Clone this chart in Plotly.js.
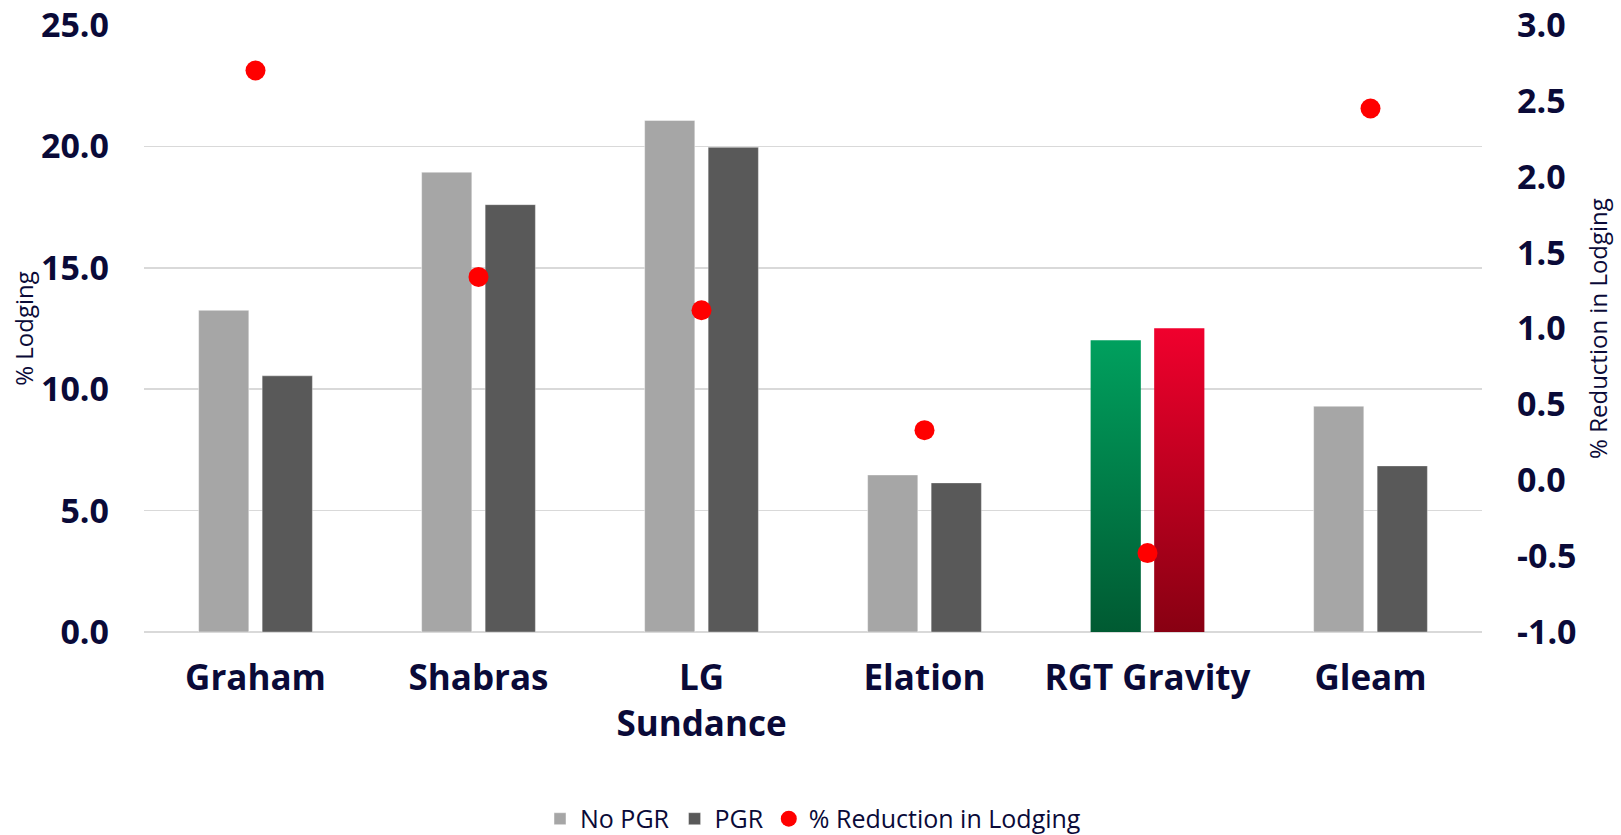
<!DOCTYPE html>
<html>
<head>
<meta charset="utf-8">
<script src="https://cdn.plot.ly/plotly-3.0.1.min.js"></script>
<style>
html,body{margin:0;padding:0;background:#fff;}
#chart{width:1621px;height:835px;}
</style>
</head>
<body>
<div id="chart"></div>
<script>
const categories = ['Graham', 'Shabras', 'LG<br>Sundance', 'Elation', 'RGT Gravity', 'Gleam'];
const noPgr = [13.25, 18.94, 21.07, 6.47, 12.02, 9.3];
const pgr = [10.55, 17.6, 19.96, 6.14, 12.51, 6.84];
const reduction = [2.70, 1.34, 1.12, 0.33, -0.48, 2.45];
const leftTicks = [0, 5, 10, 15, 20, 25];
const rightTicks = [-1, -0.5, 0, 0.5, 1, 1.5, 2, 2.5, 3];

const navy = '#0a0a38';
const noPgrColors = categories.map((c, i) => i === 4 ? '#008a50' : '#a6a6a6');
const pgrColors = categories.map((c, i) => i === 4 ? '#c80020' : '#595959');

const traces = [
  {
    type: 'bar', name: 'No PGR', x: categories, y: noPgr,
    marker: {color: noPgrColors, line: {color: 'rgba(255,255,255,0.45)', width: 1}},
    hoverinfo: 'y'
  },
  {
    type: 'bar', name: 'PGR', x: categories, y: pgr,
    marker: {color: pgrColors, line: {color: 'rgba(255,255,255,0.35)', width: 1}},
    hoverinfo: 'y'
  },
  {
    type: 'scatter', mode: 'markers', name: '% Reduction in Lodging',
    x: categories, y: reduction, yaxis: 'y2',
    marker: {color: '#ff0000', size: 20}
  }
];

const layout = {
  width: 1621, height: 835,
  paper_bgcolor: '#ffffff', plot_bgcolor: '#ffffff',
  margin: {l: 144, r: 139, t: 25, b: 203, autoexpand: false},
  font: {family: 'Open Sans, Noto Sans, sans-serif', color: navy},
  barmode: 'group', bargap: 0.43, bargroupgap: 0.21,
  showlegend: true,
  legend: {
    orientation: 'h', x: 0.5, xanchor: 'center', y: -0.308, yanchor: 'middle',
    font: {size: 25, color: navy}, traceorder: 'normal', itemwidth: 30
  },
  xaxis: {
    type: 'category',
    tickfont: {size: 35, weight: 'bold', color: navy},
    showgrid: false, showline: false, zeroline: false,
    ticks: '', ticklabelstandoff: 22,
    fixedrange: true
  },
  yaxis: {
    range: [0, 25], tickvals: leftTicks, ticktext: leftTicks.map(v => v.toFixed(1)),
    tickfont: {size: 34, weight: 'bold', color: navy},
    showgrid: true, gridcolor: '#d9d9d9', gridwidth: 1.5,
    zeroline: true, zerolinecolor: '#d9d9d9', zerolinewidth: 1.5,
    showline: false, ticks: '', ticklabelstandoff: 34,
    title: {text: '% Lodging', font: {size: 24, color: navy}, standoff: 0},
    fixedrange: true
  },
  yaxis2: {
    overlaying: 'y', side: 'right',
    range: [-1, 3], tickvals: rightTicks, ticktext: rightTicks.map(v => v.toFixed(1)),
    tickfont: {size: 34, weight: 'bold', color: navy},
    showgrid: false, zeroline: false, showline: false,
    ticks: '', ticklabelstandoff: 34,
    title: {text: '% Reduction in Lodging', font: {size: 24, color: navy}, standoff: 14},
    fixedrange: true
  }
};

function applyGradients(gd) {
  const svg = gd.querySelector('svg.main-svg');
  if (!svg) return;
  let defs = svg.querySelector('defs');
  if (!defs) {
    defs = document.createElementNS('http://www.w3.org/2000/svg', 'defs');
    svg.insertBefore(defs, svg.firstChild);
  }
  const mk = (id, top, bottom) => {
    if (defs.querySelector('#' + id)) return;
    const g = document.createElementNS('http://www.w3.org/2000/svg', 'linearGradient');
    g.setAttribute('id', id);
    g.setAttribute('x1', '0'); g.setAttribute('y1', '0');
    g.setAttribute('x2', '0'); g.setAttribute('y2', '1');
    [[0, top], [1, bottom]].forEach(([o, c]) => {
      const s = document.createElementNS('http://www.w3.org/2000/svg', 'stop');
      s.setAttribute('offset', String(o));
      s.setAttribute('stop-color', c);
      g.appendChild(s);
    });
    defs.appendChild(g);
  };
  mk('gradGreen', '#00a05e', '#005a32');
  mk('gradRed', '#f0002d', '#880012');
  const barTraces = gd.querySelectorAll('.barlayer .trace');
  const ids = ['gradGreen', 'gradRed'];
  barTraces.forEach((t, ti) => {
    const pts = t.querySelectorAll('.point path');
    if (pts[4] && ids[ti]) {
      pts[4].style.fill = 'url(#' + ids[ti] + ')';
      pts[4].style.stroke = 'none';
    }
  });
}

const gd = document.getElementById('chart');
Plotly.newPlot(gd, traces, layout, {displayModeBar: false, staticPlot: true}).then(() => {
  applyGradients(gd);
  gd.on && gd.on('plotly_afterplot', () => applyGradients(gd));
});
</script>
</body>
</html>
